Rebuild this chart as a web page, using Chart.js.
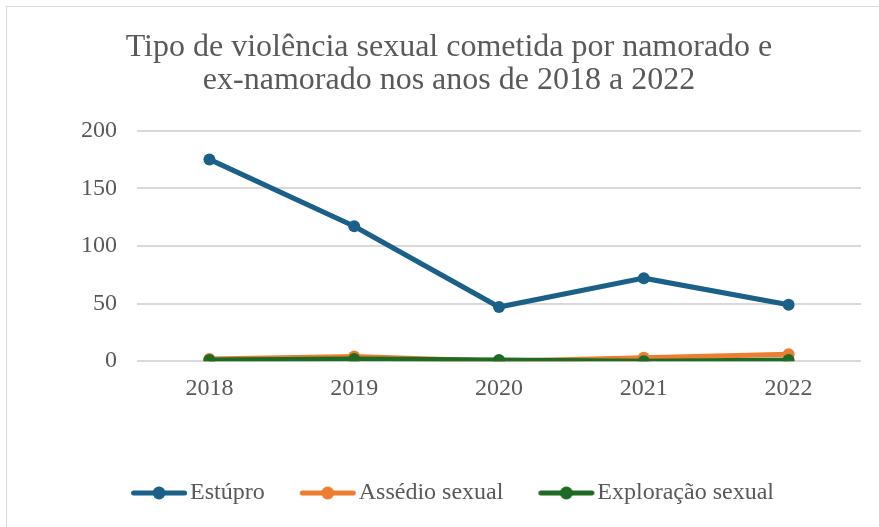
<!DOCTYPE html>
<html>
<head>
<meta charset="utf-8">
<script src="https://cdn.jsdelivr.net/npm/chart.js"></script>
<style>
  html, body { margin:0; padding:0; background:#fff; overflow:hidden; }
  #wrap { position:relative; width:879px; height:527px; }
  #frame { position:absolute; left:6px; top:6px; width:900px; height:600px; border:1px solid #d9d9d9; box-sizing:border-box; }
  #chart { position:absolute; left:0; top:0; }
</style>
</head>
<body>
<div id="wrap">
  <div id="frame"></div>
  <canvas id="chart" width="879" height="527"></canvas>
</div>
<script>
// dados
var anos = ['2018', '2019', '2020', '2021', '2022'];
var estupro = [175, 117, 47, 72, 49];
var assedio = [2, 4, 0, 3, 6];
var exploracao = [1, 2, 1, 0, 1];
var nomes = ['Estúpro', 'Assédio sexual', 'Exploração sexual'];
var cores = ['#1b6088', '#ed7d31', '#1e6b24'];
var titulo = ['Tipo de violência sexual cometida por namorado e', 'ex-namorado nos anos de 2018 a 2022'];

var fonte = 'Liberation Serif';
var cinza = '#595959';

// ícone da legenda (linha com bolinha)
function iconeLegenda(cor) {
  var c = document.createElement('canvas');
  c.width = 60; c.height = 16;
  var g = c.getContext('2d');
  g.strokeStyle = cor; g.lineWidth = 5; g.lineCap = 'round';
  g.beginPath(); g.moveTo(4.5, 8); g.lineTo(55.5, 8); g.stroke();
  g.fillStyle = cor;
  g.beginPath(); g.arc(30, 8, 6.5, 0, Math.PI * 2); g.fill();
  return c;
}

var series = [estupro, assedio, exploracao];
var datasets = [];
for (var i = 0; i < series.length; i++) {
  datasets.push({
    label: nomes[i],
    data: series[i],
    borderColor: cores[i],
    backgroundColor: cores[i],
    borderWidth: 5,
    pointRadius: 6,
    pointHoverRadius: 6,
    pointBorderWidth: 0,
    tension: 0,
    order: series.length - i // a última série fica por cima
  });
}

// empurra a legenda um pouco para a direita
var ajusteLegenda = {
  id: 'ajusteLegenda',
  afterLayout: function (chart) { chart.legend.left += 16; }
};

new Chart(document.getElementById('chart'), {
  type: 'line',
  data: { labels: anos, datasets: datasets },
  plugins: [ajusteLegenda],
  options: {
    responsive: false,
    animation: false,
    layout: { padding: { left: 37, right: 18, top: 12, bottom: 12 } },
    plugins: {
      title: {
        display: true,
        text: titulo,
        color: cinza,
        font: { family: fonte, size: 32, weight: 'normal', lineHeight: 1.04 },
        padding: { top: 19, bottom: 33 }
      },
      legend: {
        position: 'bottom',
        labels: {
          color: cinza,
          font: { family: fonte, size: 24 },
          usePointStyle: true,
          pointStyleWidth: 38,
          padding: 44,
          generateLabels: function (chart) {
            var itens = Chart.defaults.plugins.legend.labels.generateLabels(chart);
            itens.sort(function (a, b) { return a.datasetIndex - b.datasetIndex; });
            itens.forEach(function (it) { it.pointStyle = iconeLegenda(cores[it.datasetIndex]); });
            return itens;
          }
        }
      },
      tooltip: { enabled: false }
    },
    scales: {
      x: {
        offset: true,
        grid: { display: false },
        border: { display: false },
        ticks: { color: cinza, font: { family: fonte, size: 24 }, padding: 5 },
        afterFit: function (scale) { scale.height += 29; }
      },
      y: {
        min: 0, max: 200,
        grid: { color: '#d9d9d9', lineWidth: 2, drawTicks: false },
        border: { display: false },
        ticks: { stepSize: 50, color: cinza, font: { family: fonte, size: 24 }, padding: 20 },
        afterFit: function (scale) { scale.width += 24; }
      }
    }
  }
});
</script>
</body>
</html>
